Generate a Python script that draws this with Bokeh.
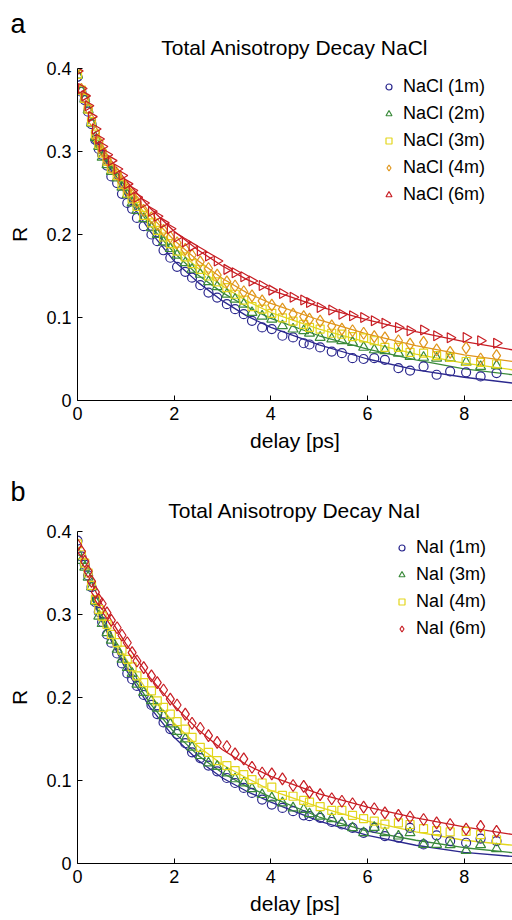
import numpy as np
from bokeh.plotting import figure
from bokeh.models import Legend, LegendItem, Title, FixedTicker
from bokeh.layouts import column
from bokeh.embed import file_html
from bokeh.resources import INLINE

# ---------------- data ----------------
delay_ps = [0.0, 0.08, 0.15, 0.22, 0.29, 0.37, 0.44, 0.51, 0.61, 0.70, 0.82, 0.92, 1.03, 1.13,
            1.23, 1.37, 1.53, 1.65, 1.78, 1.92, 2.06, 2.23, 2.37, 2.54, 2.71, 2.89, 3.09, 3.26,
            3.44, 3.61, 3.82, 4.02, 4.24, 4.46, 4.68, 4.80, 5.02, 5.26, 5.47, 5.69, 5.92, 6.14,
            6.36, 6.64, 6.88, 7.16, 7.43, 7.71, 8.04, 8.34, 8.67]

nacl_1m = [0.390, 0.372, 0.362, 0.348, 0.333, 0.314, 0.303, 0.296, 0.283, 0.270, 0.262, 0.249,
           0.238, 0.231, 0.220, 0.210, 0.200, 0.192, 0.181, 0.172, 0.161, 0.155, 0.148, 0.139,
           0.130, 0.124, 0.116, 0.110, 0.104, 0.096, 0.088, 0.086, 0.078, 0.076, 0.069, 0.0675,
           0.064, 0.059, 0.057, 0.051, 0.050, 0.051, 0.049, 0.039, 0.036, 0.041, 0.031, 0.035,
           0.034, 0.029, 0.033]
nacl_2m = [0.392, 0.373, 0.363, 0.350, 0.334, 0.317, 0.306, 0.293, 0.284, 0.276, 0.268, 0.257,
           0.248, 0.238, 0.229, 0.219, 0.208, 0.200, 0.191, 0.183, 0.175, 0.166, 0.158, 0.152,
           0.143, 0.137, 0.128, 0.122, 0.116, 0.106, 0.1016, 0.098, 0.090, 0.086, 0.084, 0.081,
           0.076, 0.074, 0.072, 0.070, 0.064, 0.061, 0.060, 0.057, 0.053, 0.052, 0.051, 0.051,
           0.046, 0.041, 0.042]
nacl_3m = [0.393, 0.374, 0.364, 0.351, 0.336, 0.321, 0.309, 0.298, 0.288, 0.279, 0.271, 0.260,
           0.250, 0.243, 0.234, 0.223, 0.214, 0.205, 0.197, 0.189, 0.180, 0.173, 0.165, 0.158,
           0.150, 0.143, 0.136, 0.128, 0.121, 0.113, 0.110, 0.105, 0.0996, 0.0956, 0.0916, 0.088,
           0.086, 0.081, 0.080, 0.077, 0.0755, 0.072, 0.064, 0.064, 0.058, 0.057, 0.054, 0.052,
           0.047, 0.046, 0.044]
nacl_4m = [0.401, 0.375, 0.365, 0.352, 0.338, 0.323, 0.312, 0.301, 0.290, 0.281, 0.273, 0.263,
           0.254, 0.247, 0.239, 0.229, 0.220, 0.212, 0.205, 0.197, 0.190, 0.182, 0.175, 0.167,
           0.159, 0.151, 0.143, 0.138, 0.131, 0.126, 0.120, 0.115, 0.110, 0.104, 0.101, 0.098,
           0.0956, 0.090, 0.086, 0.084, 0.081, 0.077, 0.0755, 0.072, 0.068, 0.070, 0.061, 0.058,
           0.0635, 0.050, 0.054]
nacl_6m = [0.397, 0.376, 0.367, 0.355, 0.342, 0.327, 0.315, 0.306, 0.296, 0.289, 0.279, 0.271,
           0.261, 0.253, 0.245, 0.238, 0.228, 0.222, 0.214, 0.207, 0.197, 0.191, 0.186, 0.180,
           0.174, 0.168, 0.158, 0.154, 0.149, 0.144, 0.1386, 0.133, 0.129, 0.1245, 0.121, 0.118,
           0.112, 0.109, 0.104, 0.102, 0.100, 0.096, 0.093, 0.088, 0.084, 0.085, 0.078, 0.0755,
           0.076, 0.072, 0.069]

nai_1m = [0.389, 0.370, 0.360, 0.347, 0.333, 0.315, 0.303, 0.291, 0.276, 0.266, 0.253, 0.241,
          0.229, 0.222, 0.214, 0.203, 0.191, 0.180, 0.170, 0.162, 0.156, 0.145, 0.134, 0.127,
          0.118, 0.111, 0.103, 0.097, 0.091, 0.085, 0.077, 0.071, 0.067, 0.063, 0.058, 0.057,
          0.055, 0.050, 0.047, 0.043, 0.037, 0.043, 0.033, 0.031, 0.043, 0.023, 0.034, 0.027,
          0.025, 0.030, 0.027]
nai_3m = [0.375, 0.365, 0.357, 0.345, 0.333, 0.316, 0.298, 0.289, 0.278, 0.269, 0.258, 0.246,
          0.236, 0.229, 0.216, 0.206, 0.196, 0.187, 0.178, 0.168, 0.159, 0.150, 0.140, 0.130,
          0.121, 0.117, 0.109, 0.102, 0.097, 0.090, 0.083, 0.079, 0.073, 0.067, 0.065, 0.060,
          0.057, 0.054, 0.049, 0.043, 0.037, 0.0435, 0.037, 0.033, 0.037, 0.023, 0.023, 0.0226,
          0.0157, 0.0226, 0.0177]
nai_4m = [0.385, 0.372, 0.362, 0.350, 0.335, 0.318, 0.306, 0.298, 0.288, 0.276, 0.266, 0.257,
          0.246, 0.237, 0.226, 0.218, 0.208, 0.196, 0.188, 0.180, 0.171, 0.162, 0.152, 0.140,
          0.134, 0.124, 0.118, 0.112, 0.107, 0.101, 0.097, 0.092, 0.082, 0.081, 0.076, 0.074,
          0.0685, 0.064, 0.064, 0.058, 0.054, 0.051, 0.0475, 0.049, 0.047, 0.042, 0.0395, 0.038,
          0.0387, 0.0347, 0.0286]
nai_6m = [0.384, 0.376, 0.364, 0.352, 0.340, 0.327, 0.318, 0.313, 0.302, 0.293, 0.284, 0.275,
          0.266, 0.254, 0.244, 0.236, 0.226, 0.218, 0.209, 0.198, 0.191, 0.180, 0.169, 0.163,
          0.154, 0.146, 0.141, 0.132, 0.126, 0.116, 0.109, 0.108, 0.102, 0.094, 0.093, 0.086,
          0.083, 0.078, 0.075, 0.072, 0.068, 0.066, 0.061, 0.058, 0.056, 0.053, 0.049, 0.047,
          0.0415, 0.0447, 0.0387]

fit_delay = [0.3, 0.5, 0.75, 1.0, 1.5, 2.0, 2.5, 3.0, 3.5, 4.0, 5.0, 6.0, 7.0, 8.0, 9.0]
nacl_1m_fit = [0.313, 0.296, 0.272, 0.247, 0.204, 0.168, 0.142, 0.120, 0.102, 0.088, 0.067, 0.050, 0.037, 0.028, 0.021]
nacl_2m_fit = [0.314, 0.297, 0.275, 0.252, 0.211, 0.178, 0.151, 0.130, 0.113, 0.099, 0.078, 0.062, 0.049, 0.038, 0.031]
nacl_3m_fit = [0.315, 0.299, 0.278, 0.256, 0.217, 0.185, 0.159, 0.138, 0.120, 0.106, 0.086, 0.070, 0.056, 0.045, 0.037]
nacl_4m_fit = [0.316, 0.301, 0.281, 0.260, 0.223, 0.193, 0.168, 0.147, 0.130, 0.117, 0.097, 0.080, 0.066, 0.055, 0.047]
nacl_6m_fit = [0.318, 0.304, 0.285, 0.265, 0.232, 0.204, 0.181, 0.162, 0.146, 0.133, 0.113, 0.097, 0.083, 0.071, 0.061]

nai_1m_fit = [0.320, 0.292, 0.262, 0.234, 0.188, 0.152, 0.124, 0.103, 0.087, 0.074, 0.051, 0.034, 0.022, 0.0135, 0.0085]
nai_3m_fit = [0.322, 0.294, 0.265, 0.238, 0.193, 0.158, 0.130, 0.109, 0.093, 0.080, 0.056, 0.039, 0.028, 0.019, 0.013]
nai_4m_fit = [0.325, 0.300, 0.272, 0.247, 0.203, 0.169, 0.141, 0.119, 0.103, 0.088, 0.068, 0.051, 0.038, 0.028, 0.022]
nai_6m_fit = [0.337, 0.313, 0.288, 0.265, 0.224, 0.190, 0.161, 0.137, 0.119, 0.105, 0.084, 0.068, 0.055, 0.044, 0.035]

nacl_labels = ["NaCl (1m)", "NaCl (2m)", "NaCl (3m)", "NaCl (4m)", "NaCl (6m)"]
nai_labels = ["NaI (1m)", "NaI (3m)", "NaI (4m)", "NaI (6m)"]
x_ticks = [0, 2, 4, 6, 8]
y_ticks = [0, 0.1, 0.2, 0.3, 0.4]
y_tick_labels = ["0", "0.1", "0.2", "0.3", "0.4"]

# ---------------- styles ----------------
NAVY, GREEN, YELLOW, ORANGE, RED = "#2b288e", "#3a8a3a", "#e3d61c", "#e0961c", "#c81e24"
FONT = "Liberation Sans"
STYLE = {
    "circle": dict(marker="circle", size=9, angle=0.0),
    "triangle": dict(marker="triangle", size=10, angle=0.0),
    "square": dict(marker="square", size=8, angle=0.0),
    "diamond": dict(marker="diamond", size=12, angle=0.0),
    "tri_right": dict(marker="triangle", size=10, angle=-np.pi / 2),
}


def make_panel(letter, title, series, height, top, letter_standoff, legend_loc):
    bottom = height - top - 332
    p = figure(width=512, height=height, x_range=(0, 9), y_range=(0, 0.4),
               output_backend="svg", toolbar_location=None, title=None,
               min_border_left=77, min_border_right=0, min_border_top=top,
               min_border_bottom=bottom)
    p.outline_line_color = None
    p.xgrid.visible = False
    p.ygrid.visible = False
    p.background_fill_color = "white"
    p.border_fill_color = "white"

    items = []
    for label, data, fit, color, kind in series:
        p.line(fit_delay, fit, line_color=color, line_width=1.3)
    for label, data, fit, color, kind in series:
        st = STYLE[kind]
        p.scatter(delay_ps, data, marker=st["marker"], size=st["size"], angle=st["angle"],
                  fill_color=None, line_color=color, line_width=1.2)
        # legend-only key glyph (not a data point, never visible in the frame)
        key = p.scatter([np.nan], [np.nan], marker=st["marker"], size=6, angle=st["angle"],
                        fill_color=None, line_color=color, line_width=1.2)
        items.append(LegendItem(label=label, renderers=[key]))

    legend = Legend(items=items, location=legend_loc, border_line_color=None,
                    background_fill_alpha=0, padding=0, margin=0, spacing=0,
                    glyph_width=15, glyph_height=15, label_height=27, label_standoff=7,
                    label_text_font=FONT, label_text_font_size="18px",
                    label_text_color="black")
    p.add_layout(legend)

    for ax in (p.xaxis[0], p.yaxis[0]):
        ax.major_tick_in = 5
        ax.major_tick_out = 0
        ax.minor_tick_line_color = None
        ax.axis_line_color = "black"
        ax.major_tick_line_color = "black"
        ax.major_label_text_font = FONT
        ax.major_label_text_font_size = "18px"
        ax.major_label_text_color = "black"
        ax.axis_label_text_font = FONT
        ax.axis_label_text_font_size = "21px"
        ax.axis_label_text_font_style = "normal"
        ax.axis_label_text_color = "black"
        ax.major_label_standoff = 6
    p.xaxis.ticker = FixedTicker(ticks=x_ticks)
    p.yaxis.ticker = FixedTicker(ticks=y_ticks)
    p.yaxis.major_label_overrides = {t: s for t, s in zip(y_ticks, y_tick_labels)}
    p.xaxis.axis_label = "delay [ps]"
    p.yaxis.axis_label = "R"
    p.xaxis.axis_label_standoff = 6
    p.yaxis.axis_label_standoff = 12

    p.add_layout(Title(text=title, align="center", standoff=20, text_font=FONT,
                       text_font_size="21px", text_font_style="normal",
                       text_color="black"), "above")
    p.add_layout(Title(text=letter, align="left", offset=-67, standoff=letter_standoff,
                       text_font=FONT, text_font_size="27px", text_font_style="normal",
                       text_color="black"), "above")
    return p


p1 = make_panel("a", "Total Anisotropy Decay NaCl", [
    (nacl_labels[0], nacl_1m, nacl_1m_fit, NAVY, "circle"),
    (nacl_labels[1], nacl_2m, nacl_2m_fit, GREEN, "triangle"),
    (nacl_labels[2], nacl_3m, nacl_3m_fit, YELLOW, "square"),
    (nacl_labels[3], nacl_4m, nacl_4m_fit, ORANGE, "diamond"),
    (nacl_labels[4], nacl_6m, nacl_6m_fit, RED, "tri_right"),
], 465, 68, -30, (304, 192))

p2 = make_panel("b", "Total Anisotropy Decay NaI", [
    (nai_labels[0], nai_1m, nai_1m_fit, NAVY, "circle"),
    (nai_labels[1], nai_3m, nai_3m_fit, GREEN, "triangle"),
    (nai_labels[2], nai_4m, nai_4m_fit, YELLOW, "square"),
    (nai_labels[3], nai_6m, nai_6m_fit, RED, "diamond"),
], 455, 66, -40, (317, 221))

layout = column(p1, p2, spacing=0)
open("out.html", "w").write(file_html(layout, INLINE))
